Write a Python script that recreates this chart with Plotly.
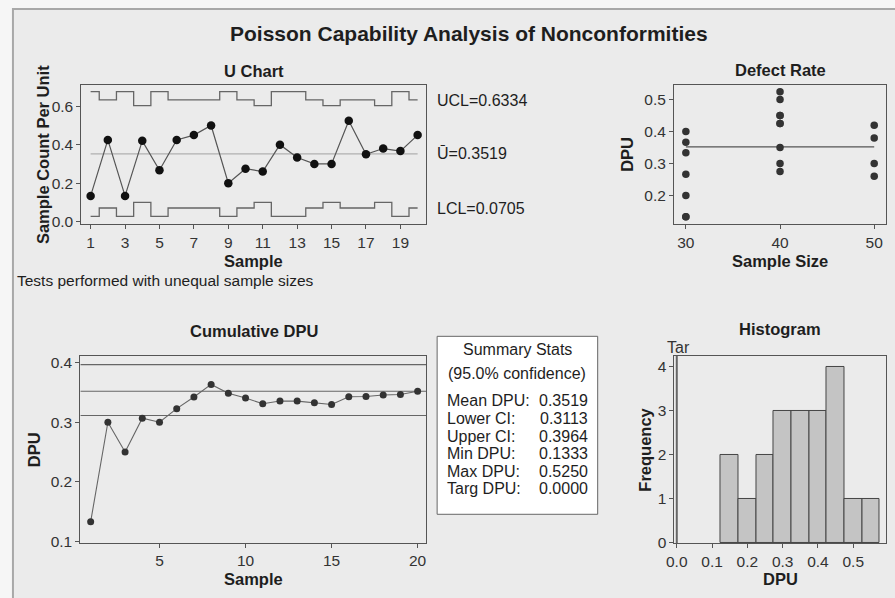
import plotly.graph_objects as go
import numpy as np

# ---------------- data ----------------
samples = list(range(1, 21))
sample_sizes = [30, 40, 30, 50, 30, 40, 40, 40, 30, 40, 50, 30, 30, 40, 50, 40, 40, 50, 30, 40]
defects = [4, 17, 4, 21, 8, 17, 18, 20, 6, 11, 13, 12, 10, 12, 15, 21, 14, 19, 11, 18]
ubar = 0.3519
ucl_label = 0.6334
lcl_label = 0.0705
lower_ci = 0.3113
upper_ci = 0.3964
target_dpu = 0.0
stats_labels = ["Mean DPU:", "Lower CI:", "Upper CI:", "Min DPU:", "Max DPU:", "Targ DPU:"]
stats_values = ["0.3519", "0.3113", "0.3964", "0.1333", "0.5250", "0.0000"]

dpu = [d / n for d, n in zip(defects, sample_sizes)]
ucl = [ubar + 3 * np.sqrt(ubar / n) for n in sample_sizes]
lcl = [max(0, ubar - 3 * np.sqrt(ubar / n)) for n in sample_sizes]
cum_dpu = list(np.cumsum(defects) / np.cumsum(sample_sizes))

W, H = 895, 598
FONT = "Liberation Sans, Arial, Helvetica, sans-serif"
FRAME = "#555555"
TXT = "#1e1e1e"
TICK = 15.5
LAB = 16.5


def px(x):
    return x / W


def py(y):
    return 1 - y / H


fig = go.Figure()

# U chart
fig.add_trace(go.Scatter(x=samples, y=ucl, mode="lines", line=dict(color="#666666", width=1.3, shape="hvh"),
                         xaxis="x", yaxis="y", hoverinfo="skip"))
fig.add_trace(go.Scatter(x=samples, y=lcl, mode="lines", line=dict(color="#666666", width=1.3, shape="hvh"),
                         xaxis="x", yaxis="y", hoverinfo="skip"))
fig.add_trace(go.Scatter(x=[samples[0], samples[-1]], y=[ubar, ubar], mode="lines",
                         line=dict(color="#b0b0b0", width=1.3), xaxis="x", yaxis="y"))
fig.add_trace(go.Scatter(x=samples, y=dpu, mode="lines+markers",
                         line=dict(color="#555555", width=1.2),
                         marker=dict(color="#111111", size=8.5), xaxis="x", yaxis="y"))

# Defect rate
fig.add_trace(go.Scatter(x=[30, 50], y=[ubar, ubar], mode="lines", line=dict(color="#555555", width=1.3),
                         xaxis="x2", yaxis="y2"))
fig.add_trace(go.Scatter(x=sample_sizes, y=dpu, mode="markers", marker=dict(color="#333333", size=7.5),
                         xaxis="x2", yaxis="y2"))

# Cumulative DPU
for v in [upper_ci, ubar, lower_ci]:
    fig.add_trace(go.Scatter(x=[0.4, 20.5], y=[v, v], mode="lines", line=dict(color="#666666", width=1.2),
                             xaxis="x3", yaxis="y3"))
fig.add_trace(go.Scatter(x=samples, y=cum_dpu, mode="lines+markers",
                         line=dict(color="#666666", width=1.1),
                         marker=dict(color="#333333", size=7), xaxis="x3", yaxis="y3"))

# Histogram
fig.add_trace(go.Histogram(x=dpu, xbins=dict(start=0.12499, end=0.575, size=0.05),
                           marker=dict(color="#c4c4c4", line=dict(color="#444444", width=1)),
                           xaxis="x4", yaxis="y4"))
fig.add_trace(go.Scatter(x=[target_dpu, target_dpu], y=[-0.02, 4.25], mode="lines",
                         line=dict(color="#666666", width=2), xaxis="x4", yaxis="y4"))

axis_common = dict(showline=True, mirror=True, linecolor=FRAME, linewidth=1, showgrid=False, zeroline=False,
                   ticks="outside", ticklen=4, tickcolor=FRAME,
                   tickfont=dict(family=FONT, size=TICK, color="#333333"))

fig.update_layout(
    width=W, height=H, margin=dict(l=0, r=0, t=0, b=0),
    paper_bgcolor="#f6f6f6", plot_bgcolor="white", showlegend=False, bargap=0,
    font=dict(family=FONT, color=TXT),
    xaxis=dict(domain=[px(74), px(422)], range=[0.46, 20.5], anchor="y",
               tickvals=[1, 3, 5, 7, 9, 11, 13, 15, 17, 19], **axis_common),
    yaxis=dict(domain=[py(226), py(84)], range=[-0.014, 0.713], anchor="x",
               tickvals=[0, 0.2, 0.4, 0.6], tickformat=".1f", **axis_common),
    xaxis2=dict(domain=[px(672), px(886)], range=[28.74, 51.26], anchor="y2",
                tickvals=[30, 40, 50], **axis_common),
    yaxis2=dict(domain=[py(226), py(84)], range=[0.11, 0.547], anchor="x2",
                tickvals=[0.2, 0.3, 0.4, 0.5], tickformat=".1f", **axis_common),
    xaxis3=dict(domain=[px(73), px(422)], range=[0.4, 20.5], anchor="y3",
                tickvals=[5, 10, 15, 20], **axis_common),
    yaxis3=dict(domain=[py(550), py(360)], range=[0.098, 0.411], anchor="x3",
                tickvals=[0.1, 0.2, 0.3, 0.4], tickformat=".1f", **axis_common),
    xaxis4=dict(domain=[px(672.5), px(886)], range=[-0.0065, 0.593], anchor="y4",
                tickvals=[0, 0.1, 0.2, 0.3, 0.4, 0.5], tickformat=".1f", **axis_common),
    yaxis4=dict(domain=[py(550.5), py(360)], range=[-0.01, 4.25], anchor="x4",
                tickvals=[0, 1, 2, 3, 4], **axis_common),
)

# background panel with border
fig.add_shape(type="rect", xref="paper", yref="paper", x0=px(5), x1=1.02, y0=-0.02, y1=py(7),
              line=dict(color="#a8a8a8", width=2), fillcolor="#ebebeb", layer="below")

# Summary stats box
fig.add_shape(type="rect", xref="paper", yref="paper", x0=px(433), x1=px(595), y0=py(521), y1=py(340),
              line=dict(color="#666666", width=1), fillcolor="white")

ann = []


def text(x, y, s, size=LAB, bold=False, xanchor="center", angle=0, color=TXT):
    ann.append(dict(x=px(x), y=py(y), xref="paper", yref="paper", text=(f"<b>{s}</b>" if bold else s),
                    showarrow=False, xanchor=xanchor, yanchor="middle", textangle=angle,
                    font=dict(family=FONT, size=size, color=color)))


text(465, 32, "Poisson Capability Analysis of Nonconformities", size=21, bold=True)
# U chart
text(248, 70, "U Chart", bold=True)
text(36, 155, "Sample Count Per Unit", bold=True, angle=-90)
text(248, 263, "Sample", bold=True)
text(431, 100, f"UCL={ucl_label:.4f}", size=16, xanchor="left")
text(431, 154, f"Ū={ubar:.4f}", size=16, xanchor="left")
text(431, 210, f"LCL={lcl_label:.4f}", size=16, xanchor="left")
text(7, 283, "Tests performed with unequal sample sizes", size=15.5, xanchor="left")
# Defect rate
text(779, 69, "Defect Rate", bold=True)
text(625, 155, "DPU", bold=True, angle=-90)
text(779, 263, "Sample Size", bold=True)
# Cumulative
text(248, 335, "Cumulative DPU", bold=True)
text(27, 455, "DPU", bold=True, angle=-90)
text(248, 587, "Sample", bold=True)
# Histogram
text(779, 333, "Histogram", bold=True)
text(677, 351, "Tar", size=16, color="#333333")
text(643, 455, "Frequency", bold=True, angle=-90)
text(779, 587, "DPU", bold=True)
# Summary stats
text(514, 353, "Summary Stats", size=16)
text(514, 378, "(95.0% confidence)", size=16)
row_y = [405, 423.5, 441.5, 459, 477, 494.5]
for lab, val, yy in zip(stats_labels, stats_values, row_y):
    text(441, yy, lab, size=16, xanchor="left")
    text(587, yy, val, size=16, xanchor="right")

fig.update_layout(annotations=ann)
fig.write_html("out.html")
